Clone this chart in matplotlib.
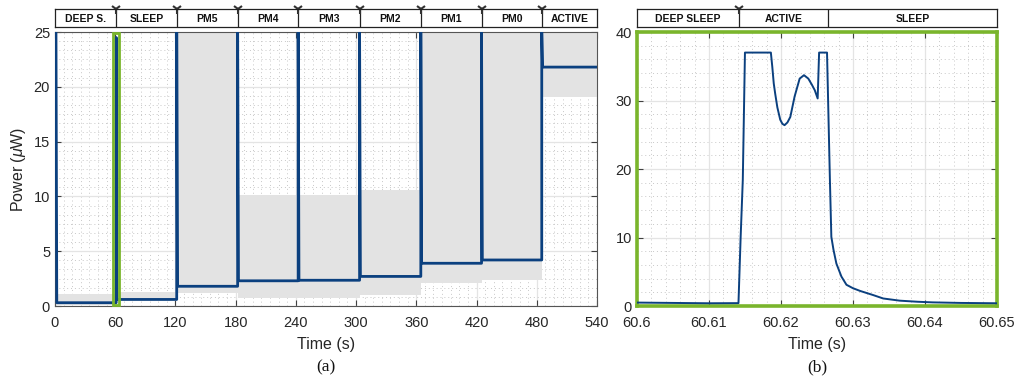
import numpy as np
import matplotlib.pyplot as plt
from matplotlib.ticker import MultipleLocator, FixedLocator
import matplotlib.patches as patches

plt.rcParams['font.family'] = ['Liberation Sans', 'DejaVu Sans']
plt.rcParams['mathtext.fontset'] = 'custom'
plt.rcParams['mathtext.it'] = 'Liberation Sans:italic'
plt.rcParams['mathtext.rm'] = 'Liberation Sans'

# --- data (a): full trace, one entry per power mode ---
seg_labels = ['DEEP S.', 'SLEEP', 'PM5', 'PM4', 'PM3', 'PM2', 'PM1', 'PM0', 'ACTIVE']
seg_edges = [0, 61, 121.3, 182, 242.3, 303.5, 364.5, 425, 485, 540]
blue_level = [0.3, 0.6, 1.8, 2.3, 2.35, 2.7, 3.9, 4.2, 21.8]
spike_peak = [25, 24.5, 25, 25, 25, 25, 25, 25, 25]
gray_low = [0.1, 0.5, 1.2, 0.7, 0.7, 1.0, 2.1, 2.4, 19.1]
gray_high = [1.1, 1.3, 25, 10.1, 10.1, 10.6, 25, 25, 25]
spike_start = [1.0, 61, 121.3, 182, 242.3, 303.5, 364.5, 425, 485]
zoom_box = [57.5, 64.0]

# --- data (b): zoom on the wake-up around t = 60.6 s ---
z_labels = ['DEEP SLEEP', 'ACTIVE', 'SLEEP']
z_edges = [60.6, 60.6142, 60.6266, 60.65]
z_t = [60.6000, 60.6050, 60.6100, 60.6141, 60.6144, 60.6147, 60.6150, 60.6186,
       60.6188, 60.6190, 60.6192, 60.6195, 60.6199, 60.6202, 60.6205, 60.6209,
       60.6213, 60.6219, 60.6226, 60.6232, 60.6238, 60.6243, 60.6247, 60.6251,
       60.6253, 60.6264, 60.6268, 60.6270, 60.6273, 60.6277, 60.6284, 60.6291,
       60.6300, 60.6310, 60.6328, 60.6342, 60.6365, 60.6390, 60.6411, 60.6450,
       60.6500]
z_p = [0.50, 0.45, 0.40, 0.42, 10.0, 18.4, 37.0, 37.0,
       34.9, 32.5, 31.0, 29.0, 27.2, 26.6, 26.4, 26.8,
       27.6, 30.6, 33.2, 33.7, 33.2, 32.3, 31.5, 30.3,
       37.0, 37.0, 18.4, 10.1, 8.2, 6.2, 4.3, 3.1,
       2.6, 2.2, 1.6, 1.1, 0.78, 0.62, 0.53, 0.45,
       0.40]

blue = '#0b407f'
gray_band = '#e3e3e3'
green = '#7ab52c'
txt = '#262626'

fig = plt.figure(figsize=(10.18, 3.84), dpi=100)
ax1 = fig.add_axes([0.054, 0.2031, 0.5324, 0.7135])
hd1 = fig.add_axes([0.054, 0.9297, 0.5324, 0.0469])
ax2 = fig.add_axes([0.6257, 0.2031, 0.3536, 0.7135])
hd2 = fig.add_axes([0.6257, 0.9297, 0.3536, 0.0469])


def style_axes(ax, spine_color, spine_lw):
    ax.set_axisbelow(True)
    ax.grid(True, which='major', color='#e4e4e4', lw=0.9, ls='-')
    ax.grid(True, which='minor', color='#c8c8c8', lw=0.7, ls=(0, (1, 3)))
    ax.tick_params(which='both', direction='in', top=True, right=True,
                   colors='#404040', labelcolor=txt, labelsize=10.5)
    ax.tick_params(axis='x', which='major', pad=7)
    ax.tick_params(which='major', length=4, width=0.8)
    ax.tick_params(which='minor', length=0)
    for s in ax.spines.values():
        s.set_color(spine_color)
        s.set_linewidth(spine_lw)


def draw_header(hd, edges, labels, marks):
    hd.set_xlim(edges[0], edges[-1])
    hd.set_ylim(0, 1)
    hd.set_xticks([])
    hd.set_yticks([])
    for s in hd.spines.values():
        s.set_color('#222222')
        s.set_linewidth(0.9)
    for e in edges[1:-1]:
        hd.axvline(e, color='#222222', lw=0.9)
    for i, lab in enumerate(labels):
        hd.text((edges[i] + edges[i + 1]) / 2, 0.45, lab, ha='center', va='center',
                fontsize=7.5, fontweight='bold', color='#111111')
    hd.plot(marks, [1.02] * len(marks), ls='none', marker='1', ms=7.5, mew=1.5,
            color='#333333', clip_on=False)


# ---------- (a) ----------
for i in range(len(seg_labels)):
    ax1.fill_between([seg_edges[i], seg_edges[i + 1]], gray_low[i], gray_high[i],
                     color=gray_band, lw=0, zorder=2)

bt, bp = [], []
for i in range(len(seg_labels)):
    t0 = spike_start[i]
    if i > 0:
        bt.append(t0)
        bp.append(blue_level[i - 1])
    bt += [t0, t0 + 0.8, seg_edges[i + 1]]
    bp += [spike_peak[i], blue_level[i], blue_level[i]]
ax1.plot(bt, bp, color=blue, lw=2.0, zorder=3)

ax1.add_patch(patches.Rectangle((zoom_box[0], 0.05), zoom_box[1] - zoom_box[0], 24.9,
                                fill=False, ec=green, lw=2.0, zorder=4, clip_on=False))

ax1.set_xlim(0, 540)
ax1.set_ylim(0, 25)
ax1.xaxis.set_major_locator(MultipleLocator(60))
ax1.xaxis.set_minor_locator(MultipleLocator(60 / 7))
ax1.yaxis.set_major_locator(MultipleLocator(5))
ax1.yaxis.set_minor_locator(MultipleLocator(5 / 6))
style_axes(ax1, '#555555', 0.8)
ax1.set_xlabel('Time (s)', fontsize=11.5, color=txt, labelpad=5)
ax1.set_ylabel(r'Power ($\mu$W)', fontsize=11.5, color=txt, labelpad=4)

draw_header(hd1, seg_edges, seg_labels, seg_edges[1:-1])

# ---------- (b) ----------
ax2.plot(z_t, z_p, color=blue, lw=1.4, zorder=3)
ax2.set_xlim(60.6, 60.65)
ax2.set_ylim(0, 40)
ax2.xaxis.set_major_locator(FixedLocator([60.6, 60.61, 60.62, 60.63, 60.64, 60.65]))
ax2.set_xticklabels(['60.6', '60.61', '60.62', '60.63', '60.64', '60.65'])
ax2.xaxis.set_minor_locator(MultipleLocator(0.002))
ax2.yaxis.set_major_locator(MultipleLocator(10))
ax2.yaxis.set_minor_locator(MultipleLocator(2))
style_axes(ax2, green, 2.6)
ax2.set_xlabel('Time (s)', fontsize=11.5, color=txt, labelpad=5)

draw_header(hd2, z_edges, z_labels, [z_edges[1]])

fig.text(0.3202, 0.044, '(a)', ha='center', va='center', fontsize=12.5,
         family='Liberation Serif', color='#111111')
fig.text(0.8026, 0.044, '(b)', ha='center', va='center', fontsize=12.5,
         family='Liberation Serif', color='#111111')

fig.savefig('out.png', dpi=100)
